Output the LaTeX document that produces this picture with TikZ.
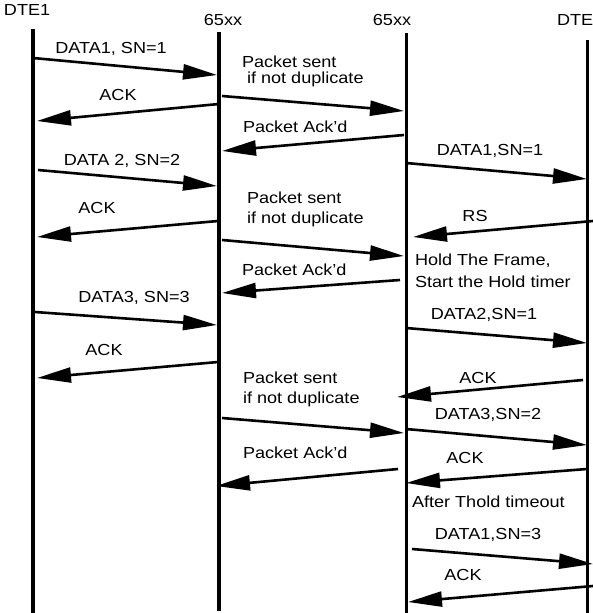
\documentclass[tikz,border=0pt]{standalone}
\usepackage{fontspec}
\setmainfont{Liberation Sans}[FakeStretch=1.13]
\usetikzlibrary{arrows.meta}
\begin{document}
\begin{tikzpicture}[x=1pt,y=-1pt,
  lifeline/.style={line width=3.6pt},
  msg/.style={line width=2.6pt,-{Triangle[length=34pt,width=15pt]}},
  lbl/.style={inner sep=0pt,outer sep=0pt,font=\fontsize{16}{18}\selectfont},
  lblc/.style={lbl,anchor=base},
  lblw/.style={lbl,anchor=base west,align=left}]
\useasboundingbox (0,0) rectangle (593,613);
% headers
\node[lblw] (hdte1) at (4,15) {DTE1};
\node[lblc] (hr1) at (223,25) {65xx};
\node[lblc] (hr2) at (392,25) {65xx};
\node[lblw] (hdte2) at (557,25) {DTE};
% lifelines
\coordinate (l1t) at (33,29);   \coordinate (l1b) at (33,613);
\coordinate (l2t) at (219,32);  \coordinate (l2b) at (219,611);
\coordinate (l3t) at (406.5,33); \coordinate (l3b) at (406.5,613);
\coordinate (l4t) at (587.5,40); \coordinate (l4b) at (587.5,613);
\draw[lifeline] (l1t) -- (l1b);
\draw[lifeline] (l2t) -- (l2b);
\draw[lifeline] (l3t) -- (l3b);
\draw[lifeline] (l4t) -- (l4b);
% message end points
\coordinate (a1s) at (33,58);   \coordinate (a1e) at (217,75);
\coordinate (a2s) at (219,104); \coordinate (a2e) at (37,121);
\coordinate (a3s) at (222,96);  \coordinate (a3e) at (404,111);
\coordinate (a4s) at (404,135); \coordinate (a4e) at (222,151);
\coordinate (a5s) at (406,163); \coordinate (a5e) at (587,179);
\coordinate (a6s) at (38,170);  \coordinate (a6e) at (217,186);
\coordinate (a7s) at (218,221); \coordinate (a7e) at (37,237);
\coordinate (a8s) at (222,240); \coordinate (a8e) at (404,256);
\coordinate (a9s) at (593,221); \coordinate (a9e) at (413,237);
\coordinate (a10s) at (400,280); \coordinate (a10e) at (222,293);
\coordinate (a11s) at (35,312); \coordinate (a11e) at (217,325);
\coordinate (a12s) at (218,362); \coordinate (a12e) at (37,378);
\coordinate (a13s) at (406,328); \coordinate (a13e) at (587,343);
\coordinate (a14s) at (222,418); \coordinate (a14e) at (404,433);
\coordinate (a15s) at (583,380); \coordinate (a15e) at (397,397);
\coordinate (a16s) at (406,429); \coordinate (a16e) at (587,445);
\coordinate (a17s) at (398,469); \coordinate (a17e) at (216,486);
\coordinate (a18s) at (587,469); \coordinate (a18e) at (406,483);
\coordinate (a19s) at (412,549); \coordinate (a19e) at (593,564);
\coordinate (a20s) at (593,586); \coordinate (a20e) at (408,602);
\foreach \i in {1,...,20} {\draw[msg] (a\i s) -- (a\i e);}
% labels (multi-line nodes: base = last line)
\node[lblc] (t1) at (111,53) {DATA1, SN=1};
\node[lblc] (t2) at (118,100) {ACK};
\node[lblw] (t3) at (242,83) {Packet sent\\[-2pt]\hspace*{5pt}if not duplicate};
\node[lblw] (t4) at (243,132) {Packet Ack'd};
\node[lblc] (t5) at (490,155) {DATA1,SN=1};
\node[lblc] (t6) at (122,165) {DATA 2, SN=2};
\node[lblc] (t7) at (97,213) {ACK};
\node[lblw] (t8) at (247,223) {Packet sent\\[2pt]if not duplicate};
\node[lblc] (t9) at (475,221) {RS};
\node[lblw] (t10) at (415,287) {Hold The Frame,\\[4pt]Start the Hold timer};
\node[lblw] (t11) at (242,275) {Packet Ack'd};
\node[lblc] (t12) at (134,302) {DATA3, SN=3};
\node[lblc] (t13) at (484,319) {DATA2,SN=1};
\node[lblc] (t14) at (104,355) {ACK};
\node[lblw] (t15) at (243,403) {Packet sent\\[2pt]if not duplicate};
\node[lblc] (t16) at (478,383) {ACK};
\node[lblc] (t17) at (488,419) {DATA3,SN=2};
\node[lblw] (t18) at (243,458) {Packet Ack'd};
\node[lblc] (t19) at (465,463) {ACK};
\node[lblw] (t20) at (412,507) {After Thold timeout};
\node[lblc] (t21) at (488,539) {DATA1,SN=3};
\node[lblc] (t22) at (463,580) {ACK};
\end{tikzpicture}
\end{document}
